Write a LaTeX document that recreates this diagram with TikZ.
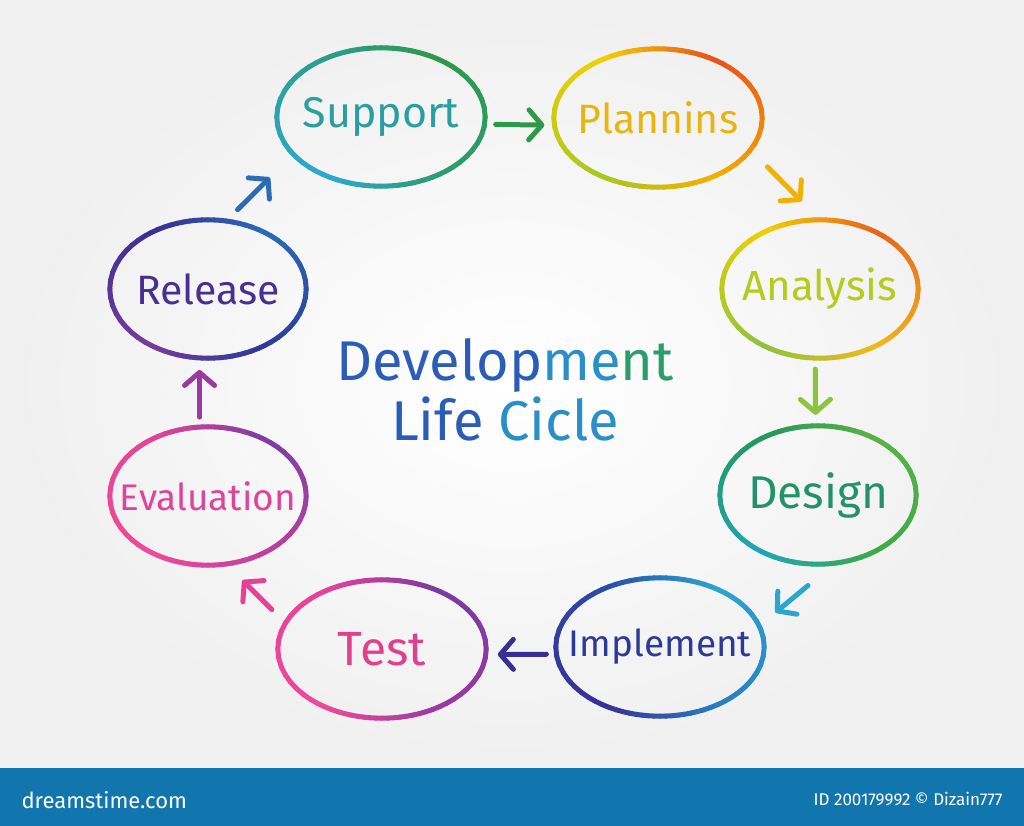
\documentclass[tikz,border=0pt]{standalone}
\usepackage{fontspec}
\setmainfont{Fira Sans}
\usetikzlibrary{arrows.meta,shapes.geometric}

% stroke colours
\definecolor{sgreen}{HTML}{2E9A48}
\definecolor{steal}{HTML}{2A9E8E}
\definecolor{scyan}{HTML}{2BA9D4}
\definecolor{stealg}{HTML}{2A9E70}
\definecolor{pred}{HTML}{E8501A}
\definecolor{pyellow}{HTML}{F2D000}
\definecolor{plime}{HTML}{A6C823}
\definecolor{porange}{HTML}{F2B000}
\definecolor{ared}{HTML}{E8621B}
\definecolor{ayellow}{HTML}{EFD000}
\definecolor{alime}{HTML}{8CC43E}
\definecolor{aorange}{HTML}{F2B81A}
\definecolor{dlime}{HTML}{5BB346}
\definecolor{dgreen}{HTML}{23985A}
\definecolor{dcyan}{HTML}{1FA5B8}
\definecolor{dgreenb}{HTML}{3AAA4A}
\definecolor{icyan}{HTML}{2BA6D0}
\definecolor{iblue}{HTML}{2A4CA8}
\definecolor{iindigo}{HTML}{3A2E96}
\definecolor{iblueb}{HTML}{2A7CC0}
\definecolor{tpurple}{HTML}{7A3A9E}
\definecolor{tpink}{HTML}{E8409A}
\definecolor{tpinkb}{HTML}{EE4A9A}
\definecolor{tpurpleb}{HTML}{9A3AA0}
\definecolor{epurple}{HTML}{7A3EA4}
\definecolor{epink}{HTML}{E24597}
\definecolor{epinkb}{HTML}{F04A9A}
\definecolor{emagenta}{HTML}{C03FA0}
\definecolor{rblue}{HTML}{2A6CB8}
\definecolor{rindigo}{HTML}{3A2E92}
\definecolor{rpurple}{HTML}{7A3A9E}
\definecolor{rblueb}{HTML}{2A3A9A}
% text colours
\definecolor{txsupport}{HTML}{2A9EA0}
\definecolor{txplan}{HTML}{EAB410}
\definecolor{txanalysis}{HTML}{B4CC1E}
\definecolor{txdesign}{HTML}{23926A}
\definecolor{tximpl}{HTML}{2B3A9A}
\definecolor{txtest}{HTML}{E0408C}
\definecolor{txeval}{HTML}{E0449A}
\definecolor{txrelease}{HTML}{4A2F92}
\definecolor{ttblue}{HTML}{2A5CB8}
\definecolor{ttmid}{HTML}{2A8ECB}
\definecolor{ttgreen}{HTML}{2A9E6A}
\definecolor{barblue}{HTML}{1176AE}

% ring round a node, colour blended from top right, top left, bottom left, bottom right
\newcommand{\gradring}[5]{%
  \foreach \ca/\cb/\s in {#2/#3/45,#3/#4/135,#4/#5/225,#5/#2/315}{%
    \foreach \t in {0,5,...,85}{%
      \pgfmathtruncatemacro{\mixp}{(\t+2.5)*100/90}%
      \pgfmathtruncatemacro{\angA}{mod(\s+\t,360)}%
      \pgfmathtruncatemacro{\angB}{mod(\s+\t+5,360)}%
      \draw[ring, color=\cb!\mixp!\ca] (#1.\angA) -- (#1.\angB);
    }%
  }%
}

\begin{document}
\begin{tikzpicture}[x=1pt, y=-1pt]
  \tikzset{
    stage/.style={ellipse, minimum width=208pt, minimum height=138pt, inner sep=0pt},
    side/.style={stage, minimum width=196pt},
    ring/.style={line width=5pt, line cap=round},
    lbl/.style={font=\fontsize{#1}{#1}\selectfont},
    flow/.style={line width=5pt, line cap=round, -{Straight Barb[length=13pt,width=30pt,round]}},
    title/.style={font=\fontsize{56}{60}\selectfont, align=center},
    barfont/.style={white, font=\fontsize{17}{20}\selectfont}
  }
  \useasboundingbox (0,0) rectangle (1024,826);
  \shade[inner color=white, outer color=black!6] (0,0) rectangle (1024,768);
  \fill[barblue] (0,768) rectangle (1024,826);

  % the eight stages
  \node[stage, label={[lbl=43,txsupport]center:Support}] (support) at (381,117) {};
  \node[stage, label={[lbl=41,txplan]center:Plannins}] (planning) at (658,118) {};
  \node[side, label={[lbl=42,txanalysis]center:Analysis}] (analysis) at (820,289) {};
  \node[side, label={[lbl=46,txdesign]center:Design}] (design) at (818,495) {};
  \node[stage, label={[lbl=37,tximpl]center:Implement}] (implement) at (660,647) {};
  \node[stage, label={[lbl=48,txtest]center:Test}] (test) at (382,649) {};
  \node[side, label={[lbl=37,txeval]center:Evaluation}] (evaluation) at (208,496) {};
  \node[side, label={[lbl=41,txrelease]center:Release}] (release) at (208,289) {};

  \gradring{support}{sgreen}{steal}{scyan}{stealg}
  \gradring{planning}{pred}{pyellow}{plime}{porange}
  \gradring{analysis}{ared}{ayellow}{alime}{aorange}
  \gradring{design}{dlime}{dgreen}{dcyan}{dgreenb}
  \gradring{implement}{icyan}{iblue}{iindigo}{iblueb}
  \gradring{test}{tpurple}{tpink}{tpinkb}{tpurpleb}
  \gradring{evaluation}{epurple}{epink}{epinkb}{emagenta}
  \gradring{release}{rblue}{rindigo}{rpurple}{rblueb}

  % arrows round the cycle
  \draw[flow, sgreen, shorten <=11pt, shorten >=10pt] (support.-4) -- (planning.184);
  \draw[flow, porange, shorten <=24pt, shorten >=26pt] (planning.-19) -- (analysis.90);
  \draw[flow, alime, shorten <=11pt, shorten >=11pt] (analysis.-94) -- (design.92);
  \draw[flow, icyan, shorten <=35pt, shorten >=21pt] (design.-76) -- (implement.12);
  \draw[flow, iindigo, shorten <=10pt, shorten >=12pt] (implement.184) -- (test.-3);
  \draw[flow, tpink, shorten <=19pt, shorten >=23pt] (test.165) -- (evaluation.-75);
  \draw[flow, tpurpleb, shorten <=10pt, shorten >=12pt] (evaluation.97) -- (release.263);
  \draw[flow, rblue, shorten <=16pt, shorten >=33pt] (release.75) -- (support.203);

  % centre title
  \node[title] (cycle) at (505,390)
    {{\color{ttblue}Develop}{\color{ttmid}me}{\color{ttgreen}nt}\\
     {\color{ttblue}Life }{\color{ttmid}Cicle}};

  % footer bar
  \node[barfont, anchor=west, font=\fontsize{22}{24}\selectfont] (site) at (18,800) {dreamstime.com};
  \node[barfont, anchor=east] (imgid) at (1006,799) {ID 200179992 © Dizain777};
\end{tikzpicture}
\end{document}
